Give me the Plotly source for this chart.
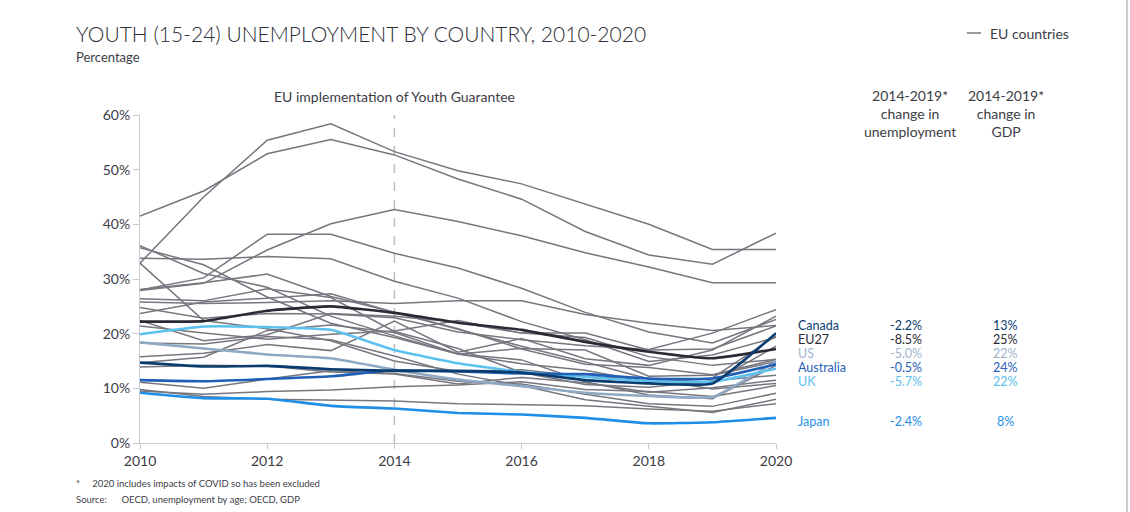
import plotly.graph_objects as go

# ---- data -------------------------------------------------------------
years = list(range(2010, 2021))

# Youth (15-24) unemployment rate, % — EU member states (grey lines)
eu_countries = {
    "Greece":      [32.9, 45.0, 55.4, 58.4, 53.3, 49.8, 47.4, 43.7, 40.0, 35.4, 35.4],
    "Spain":       [41.5, 46.1, 52.9, 55.5, 52.7, 48.3, 44.6, 38.7, 34.4, 32.7, 38.4],
    "Italy":       [27.9, 29.2, 35.3, 40.1, 42.7, 40.5, 37.9, 34.8, 32.2, 29.3, 29.3],
    "Portugal":    [28.0, 30.2, 38.2, 38.2, 34.7, 32.0, 28.3, 23.9, 20.3, 18.3, 22.6],
    "Slovakia":    [33.8, 33.6, 34.1, 33.7, 29.6, 26.5, 22.2, 18.9, 14.9, 16.1, 19.3],
    "Latvia":      [36.1, 31.0, 28.5, 23.2, 19.6, 16.3, 17.3, 17.0, 12.2, 12.4, 14.9],
    "Lithuania":   [35.7, 32.6, 26.7, 21.9, 19.3, 16.3, 14.5, 13.3, 11.1, 11.9, 19.6],
    "Estonia":     [32.9, 22.4, 20.9, 18.7, 15.0, 13.1, 13.4, 12.1, 11.8, 11.1, 17.7],
    "Ireland":     [28.1, 29.3, 30.9, 26.8, 23.9, 20.9, 17.2, 14.4, 13.8, 12.5, 15.3],
    "France":      [25.8, 25.5, 25.7, 26.0, 25.5, 26.0, 26.0, 23.5, 21.9, 20.6, 21.5],
    "Sweden":      [24.8, 22.8, 23.7, 23.6, 22.9, 20.3, 18.9, 17.8, 17.1, 20.1, 24.4],
    "Finland":     [21.4, 20.1, 19.0, 19.9, 20.5, 22.4, 20.1, 20.1, 17.0, 17.2, 21.4],
    "Belgium":     [22.4, 18.7, 19.8, 23.7, 23.2, 22.1, 20.1, 19.3, 15.8, 14.2, 15.3],
    "Poland":      [23.7, 25.8, 26.5, 27.3, 23.9, 20.8, 17.7, 14.8, 11.7, 9.9, 10.9],
    "Hungary":     [26.4, 26.0, 28.2, 26.6, 20.4, 17.3, 12.9, 10.7, 10.2, 11.4, 12.4],
    "Slovenia":    [14.7, 15.7, 20.6, 21.6, 20.2, 16.3, 15.2, 11.2, 8.8, 8.1, 14.2],
    "Czechia":     [18.3, 18.1, 19.5, 18.9, 15.9, 12.6, 10.5, 7.9, 6.7, 5.6, 8.0],
    "Luxembourg":  [15.8, 16.4, 18.0, 16.9, 22.3, 16.6, 19.1, 15.4, 14.2, 17.0, 23.2],
    "Denmark":     [13.9, 14.2, 14.1, 13.0, 12.6, 10.8, 12.0, 11.0, 9.3, 10.1, 11.5],
    "Netherlands": [11.1, 10.0, 11.7, 13.2, 12.7, 11.3, 10.8, 8.9, 7.2, 6.7, 9.1],
    "Germany":     [9.8, 8.5, 8.0, 7.8, 7.7, 7.2, 7.0, 6.8, 6.2, 5.8, 7.2],
    "Austria":     [9.5, 8.9, 9.4, 9.7, 10.3, 10.6, 11.2, 9.8, 9.4, 8.5, 10.5],
}

# Highlighted economies
eu27      = [22.2, 22.3, 24.2, 25.0, 23.8, 22.0, 20.7, 18.5, 16.7, 15.5, 17.2]
us        = [18.4, 17.3, 16.2, 15.5, 13.4, 11.6, 10.4, 9.2, 8.6, 8.4, 14.9]
uk        = [19.9, 21.3, 21.2, 20.7, 17.0, 14.6, 13.0, 12.1, 11.3, 11.2, 13.6]
australia = [11.5, 11.3, 11.7, 12.2, 13.3, 13.1, 12.7, 12.6, 11.8, 11.8, 14.4]
canada    = [14.7, 14.0, 14.1, 13.5, 13.2, 13.2, 12.9, 11.5, 10.9, 10.9, 20.1]
japan     = [9.2, 8.2, 8.1, 6.8, 6.3, 5.5, 5.2, 4.6, 3.6, 3.8, 4.6]

# 2014-2019 change table
table_names = ["Canada", "EU27", "US", "Australia", "UK", "Japan"]
unemp_change = ["-2.2%", "-8.5%", "-5.0%", "-0.5%", "-5.7%", "-2.4%"]
gdp_change = ["13%", "25%", "22%", "24%", "22%", "8%"]

y_ticks = [0, 10, 20, 30, 40, 50, 60]
y_tick_labels = ["0%", "10%", "20%", "30%", "40%", "50%", "60%"]
x_ticks = [2010, 2012, 2014, 2016, 2018, 2020]

# ---- styling ----------------------------------------------------------
W, H = 1130, 512
L, R, T, B = 140, 354, 115, 69
PW, PH = W - L - R, H - T - B

FONT = "Lato"
TXT = "#3c3c46"
GREY = "#76767f"

def px(x):
    return (x - L) / PW

def py(y):
    return (H - B - y) / PH

fig = go.Figure()

for name, vals in eu_countries.items():
    fig.add_trace(go.Scatter(
        x=years, y=vals, mode="lines", name=name,
        line=dict(color=GREY, width=1.5), showlegend=False,
        hoverinfo="name+y"))

highlight = [
    ("EU27", eu27, "#2a2a35"),
    ("US", us, "#8fa8c3"),
    ("UK", uk, "#5cc1ee"),
    ("Australia", australia, "#1f5fb8"),
    ("Canada", canada, "#0b3c6f"),
    ("Japan", japan, "#1e8ee6"),
]
for name, vals, col in highlight:
    fig.add_trace(go.Scatter(
        x=years, y=vals, mode="lines", name=name,
        line=dict(color=col, width=2.6, shape="spline", smoothing=0.4),
        showlegend=False, hoverinfo="name+y"))

# Youth Guarantee marker
fig.add_shape(type="line", x0=2014, x1=2014, y0=0, y1=60, xref="x", yref="y",
              line=dict(color="#bdbdc6", width=1.5, dash="dash"), layer="below")
fig.add_annotation(x=2014, y=py(97), xref="x", yref="paper",
                   text="EU implementation of Youth Guarantee", showarrow=False,
                   xanchor="center", yanchor="middle",
                   font=dict(family=FONT, size=14, color=TXT))

# Title block
fig.add_annotation(x=px(74), y=py(33), xref="paper", yref="paper",
                   text="YOUTH (15-24) UNEMPLOYMENT BY COUNTRY, 2010-2020",
                   showarrow=False, xanchor="left", yanchor="middle",
                   font=dict(family=FONT, size=21, color="#2e2e38", weight=300))
fig.add_annotation(x=px(74), y=py(57), xref="paper", yref="paper",
                   text="Percentage", showarrow=False, xanchor="left", yanchor="middle",
                   font=dict(family=FONT, size=13, color=TXT))

# Legend key
fig.add_shape(type="line", xref="paper", yref="paper",
              x0=px(967), x1=px(981), y0=py(33), y1=py(33),
              line=dict(color=GREY, width=1.5))
fig.add_annotation(x=px(988), y=py(33), xref="paper", yref="paper",
                   text="EU countries", showarrow=False, xanchor="left", yanchor="middle",
                   font=dict(family=FONT, size=14, color=TXT))

# Table headers
for cx, head in [(910, "2014-2019*<br>change in<br>unemployment"),
                 (1006, "2014-2019*<br>change in<br>GDP")]:
    fig.add_annotation(x=px(cx), y=py(113), xref="paper", yref="paper",
                       text=head, showarrow=False, xanchor="center", yanchor="middle",
                       align="center", font=dict(family=FONT, size=14, color=TXT))

# Table rows
row_y = [325, 339, 353, 367, 381, 421]
row_col = ["#0b3c6f", "#2a2a35", "#9fb5cf", "#1f5fb8", "#5cc1ee", "#1e8ee6"]
for name, u, g, yy, col in zip(table_names, unemp_change, gdp_change, row_y, row_col):
    f = dict(family=FONT, size=12.5, color=col)
    fig.add_annotation(x=px(797), y=py(yy), xref="paper", yref="paper", text=name,
                       showarrow=False, xanchor="left", yanchor="middle", font=f,
                       borderpad=0)
    fig.add_annotation(x=px(906), y=py(yy), xref="paper", yref="paper", text=u,
                       showarrow=False, xanchor="center", yanchor="middle", font=f,
                       borderpad=0)
    fig.add_annotation(x=px(1005), y=py(yy), xref="paper", yref="paper", text=g,
                       showarrow=False, xanchor="center", yanchor="middle", font=f,
                       borderpad=0)

# Footnotes
fig.add_annotation(x=px(74), y=py(483), xref="paper", yref="paper",
                   text="*&nbsp;&nbsp;&nbsp;&nbsp;&nbsp;2020 includes impacts of COVID so has been excluded",
                   showarrow=False, xanchor="left", yanchor="middle",
                   font=dict(family=FONT, size=9.5, color=TXT))
fig.add_annotation(x=px(74), y=py(499), xref="paper", yref="paper",
                   text="Source:&nbsp;&nbsp;&nbsp;&nbsp;&nbsp;&nbsp;OECD, unemployment by age; OECD, GDP",
                   showarrow=False, xanchor="left", yanchor="middle",
                   font=dict(family=FONT, size=9.5, color=TXT))

# Right-hand frame rule
fig.add_shape(type="line", xref="paper", yref="paper",
              x0=px(1127), x1=px(1127), y0=py(0), y1=py(512),
              line=dict(color="#9a9aa4", width=1))

fig.update_layout(
    width=W, height=H,
    margin=dict(l=L, r=R, t=T, b=B),
    paper_bgcolor="white", plot_bgcolor="white",
    font=dict(family=FONT, size=13, color=TXT),
    xaxis=dict(range=[2010, 2020], tickvals=x_ticks, ticktext=[str(v) for v in x_ticks],
               showgrid=False, zeroline=False, showline=True, linecolor="#c9c9d1",
               linewidth=1, ticks="outside", ticklen=5, tickcolor="#c9c9d1",
               tickfont=dict(family=FONT, size=14, color=TXT)),
    yaxis=dict(range=[0, 60], tickvals=y_ticks, ticktext=y_tick_labels,
               showgrid=False, zeroline=False, showline=True, linecolor="#c9c9d1",
               linewidth=1, ticks="outside", ticklen=6, tickcolor="#c9c9d1",
               tickfont=dict(family=FONT, size=14, color=TXT)),
    showlegend=False,
)

fig.write_html("out.html")
